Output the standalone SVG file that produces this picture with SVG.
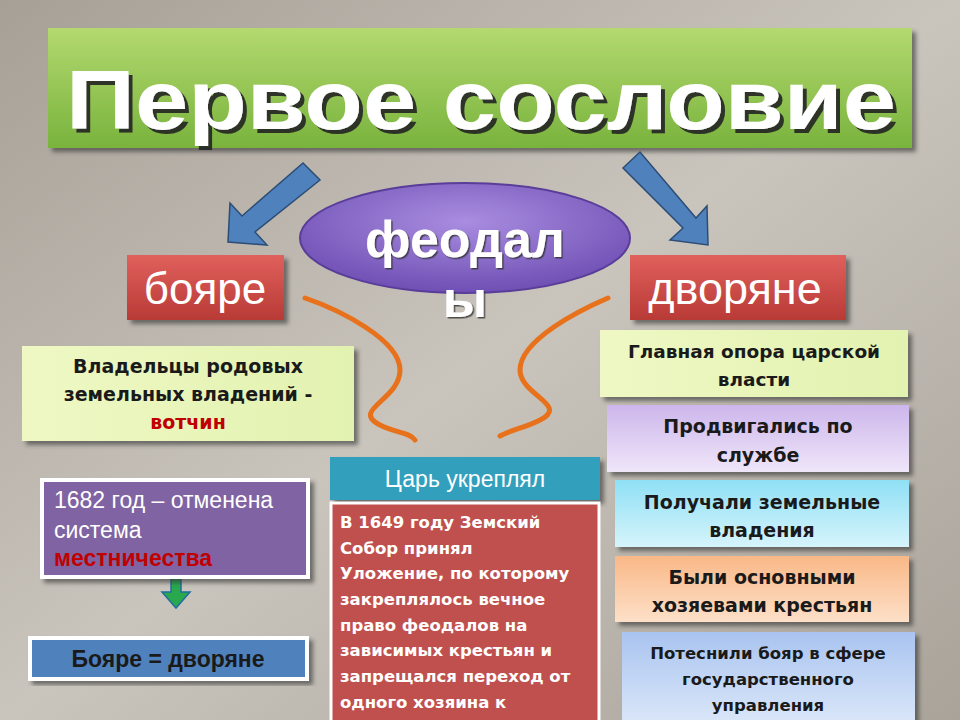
<svg xmlns="http://www.w3.org/2000/svg" width="960" height="720" viewBox="0 0 960 720">
<defs>
<linearGradient id="bg" x1="0" y1="0" x2="1" y2="1"><stop offset="0" stop-color="#a7a097"/><stop offset="0.5" stop-color="#c9c4bc"/><stop offset="1" stop-color="#a9a39a"/></linearGradient>
<linearGradient id="gr" x1="0" y1="0" x2="0" y2="1"><stop offset="0" stop-color="#b3d96f"/><stop offset="1" stop-color="#79b33d"/></linearGradient>
<radialGradient id="pu" cx="0.5" cy="0.35" r="0.7"><stop offset="0" stop-color="#a98de0"/><stop offset="1" stop-color="#6a4ab0"/></radialGradient>
<linearGradient id="rd" x1="0" y1="0" x2="0" y2="1"><stop offset="0" stop-color="#e0605c"/><stop offset="1" stop-color="#b83a36"/></linearGradient>
<linearGradient id="g1" x1="0" y1="0" x2="1" y2="0"><stop offset="0" stop-color="#eff8c4"/><stop offset="1" stop-color="#e2f2b0"/></linearGradient>
<linearGradient id="g2" x1="0" y1="0" x2="0" y2="1"><stop offset="0" stop-color="#cdb6ec"/><stop offset="1" stop-color="#efe6f9"/></linearGradient>
<linearGradient id="g3" x1="0" y1="0" x2="0" y2="1"><stop offset="0" stop-color="#8fe0f5"/><stop offset="1" stop-color="#d6f4fb"/></linearGradient>
<linearGradient id="g4" x1="0" y1="0" x2="0" y2="1"><stop offset="0" stop-color="#f9b887"/><stop offset="1" stop-color="#fde0c8"/></linearGradient>
<linearGradient id="g5" x1="0" y1="0" x2="0" y2="1"><stop offset="0" stop-color="#a9c4f0"/><stop offset="1" stop-color="#dbe7f9"/></linearGradient>
<filter id="sh" x="-5%" y="-5%" width="115%" height="120%"><feDropShadow dx="4" dy="4" stdDeviation="2" flood-color="#333" flood-opacity="0.6"/></filter>
<filter id="ts" x="-5%" y="-10%" width="115%" height="130%"><feDropShadow dx="4" dy="4" stdDeviation="0.5" flood-color="#222" flood-opacity="0.9"/></filter>
<filter id="ts2" x="-5%" y="-10%" width="115%" height="130%"><feDropShadow dx="1.5" dy="1.5" stdDeviation="0.5" flood-color="#333" flood-opacity="0.8"/></filter>
</defs>
<style>
.t{font-family:"Liberation Sans",Arial,sans-serif;text-anchor:middle}
.d{font-family:"DejaVu Sans",Verdana,sans-serif;text-anchor:middle;font-weight:bold}
.b{font-weight:bold}
.dk{fill:#1a1a1a}
.wh{fill:#fff}
.rt{fill:#c00000}
</style>
<rect width="960" height="720" fill="url(#bg)"/>
<g id="title"><rect x="48" y="28" width="864" height="120" fill="url(#gr)" filter="url(#sh)"/>
<text class="t b" x="481" y="129" font-size="84" fill="#fff" textLength="830" lengthAdjust="spacingAndGlyphs" filter="url(#ts)">Первое сословие</text></g>
<g id="connectors">
<path d="M303,163 L320,180 L255,232 L267,245 L228,242 L230,203 L242,216 Z" fill="#4f81bd" stroke="#2c4d75" stroke-width="1.5"/>
<path d="M640,152 L623,168 L683,228 L670,240 L708,245 L707,206 L696,218 Z" fill="#4f81bd" stroke="#2c4d75" stroke-width="1.5"/>
<path d="M305,298 C340,310 400,340 400,370 C400,400 350,410 380,425 C395,433 410,432 415,440" fill="none" stroke="#e8721c" stroke-width="5" stroke-linecap="round"/>
<path d="M608,298 C580,310 520,340 520,370 C520,395 570,405 540,420 C525,428 510,430 500,436" fill="none" stroke="#e8721c" stroke-width="5" stroke-linecap="round"/>
<path d="M171,556 L181,556 L181,592 L190,592 L176,608 L162,592 L171,592 Z" fill="#2aa84e" stroke="#1f6fa0" stroke-width="1.5"/>
</g>
<g id="feodaly"><ellipse cx="465" cy="238" rx="165" ry="55" fill="url(#pu)" stroke="#5a3d99" stroke-width="2"/>
<text class="t b wh" x="465" y="257" font-size="52" filter="url(#ts2)">феодал</text>
<text class="t b wh" x="465" y="317" font-size="52" filter="url(#ts2)">ы</text></g>
<g id="boyare"><rect x="127" y="255" width="157" height="65" fill="url(#rd)" filter="url(#sh)"/>
<text class="t wh" x="205" y="304" font-size="44">бояре</text></g>
<g id="dvoryane"><rect x="630" y="255" width="216" height="65" fill="url(#rd)" filter="url(#sh)"/>
<text class="t wh" x="735" y="304" font-size="45">дворяне</text></g>
<g id="votchiny"><rect x="22" y="346" width="332" height="95" fill="url(#g1)" filter="url(#sh)"/>
<text class="d dk" x="188" y="373" font-size="19">Владельцы родовых</text>
<text class="d dk" x="188" y="401" font-size="19">земельных владений -</text>
<text class="d rt" x="188" y="429" font-size="19">вотчин</text></g>
<g id="mestnichestvo"><rect x="42" y="480" width="266" height="97" fill="#8064a2" stroke="#fff" stroke-width="4" filter="url(#sh)"/>
<text x="54" y="508" font-size="23" class="wh" font-family="Liberation Sans,Arial,sans-serif">1682 год – отменена</text>
<text x="54" y="538" font-size="23" class="wh" font-family="Liberation Sans,Arial,sans-serif">система</text>
<text x="54" y="566" font-size="23" class="rt b" font-family="Liberation Sans,Arial,sans-serif">местничества</text></g>
<g id="ravno"><rect x="30" y="638" width="277" height="41" fill="#4f81bd" stroke="#fff" stroke-width="4" filter="url(#sh)"/>
<text class="t b dk" x="168" y="667" font-size="23">Бояре = дворяне</text></g>
<g id="tsar"><rect x="330" y="457" width="270" height="43" fill="#31a0bd" filter="url(#sh)"/>
<text class="t wh" x="465" y="487" font-size="23">Царь укреплял</text></g>
<g id="ulozhenie"><rect x="331" y="503" width="268" height="222" fill="#c0504d" stroke="#fff" stroke-width="3"/>
<g font-family="DejaVu Sans,Verdana,sans-serif" font-size="16.5" font-weight="bold" fill="#fff">
<text x="340" y="528">В 1649 году Земский</text><text x="340" y="554">Собор принял</text><text x="340" y="579">Уложение, по которому</text><text x="340" y="605">закреплялось вечное</text><text x="340" y="631">право феодалов на</text><text x="340" y="656">зависимых крестьян и</text><text x="340" y="682">запрещался переход от</text><text x="340" y="708">одного хозяина к</text></g></g>
<g id="r1"><rect x="600" y="330" width="308" height="67" fill="url(#g1)" filter="url(#sh)"/>
<text class="d dk" x="754" y="358" font-size="18.5">Главная опора царской</text><text class="d dk" x="754" y="386" font-size="18.5">власти</text></g>
<g id="r2"><rect x="607" y="405" width="302" height="67" fill="url(#g2)" filter="url(#sh)"/>
<text class="d dk" x="758" y="433" font-size="19">Продвигались по</text><text class="d dk" x="758" y="462" font-size="19">службе</text></g>
<g id="r3"><rect x="615" y="480" width="294" height="67" fill="url(#g3)" filter="url(#sh)"/>
<text class="d dk" x="762" y="509" font-size="19">Получали земельные</text><text class="d dk" x="762" y="537" font-size="19">владения</text></g>
<g id="r4"><rect x="615" y="556" width="294" height="66" fill="url(#g4)" filter="url(#sh)"/>
<text class="d dk" x="762" y="584" font-size="19">Были основными</text><text class="d dk" x="762" y="612" font-size="19">хозяевами крестьян</text></g>
<g id="r5"><rect x="622" y="632" width="293" height="92" fill="url(#g5)" filter="url(#sh)"/>
<text class="d dk" x="768" y="659" font-size="16.5">Потеснили бояр в сфере</text><text class="d dk" x="768" y="685" font-size="16.5">государственного</text><text class="d dk" x="768" y="711" font-size="16.5">управления</text></g>
</svg>
